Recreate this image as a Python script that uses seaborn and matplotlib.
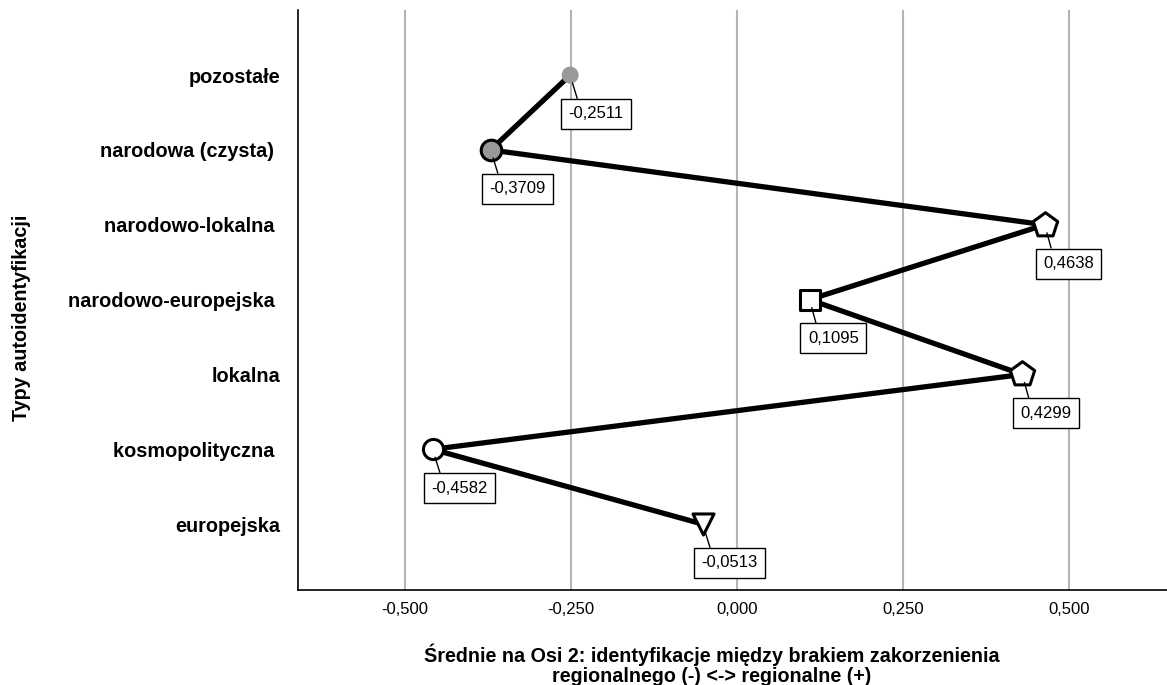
import numpy as np
import pandas as pd
import matplotlib
matplotlib.use("Agg")
import matplotlib.pyplot as plt
import seaborn as sns

# Dane
kategorie = ['pozostałe', 'narodowa (czysta) ', 'narodowo-lokalna ', 'narodowo-europejska ',
             'lokalna', 'kosmopolityczna ', 'europejska']
srednie = [-0.2511, -0.3709, 0.4638, 0.1095, 0.4299, -0.4582, -0.0513]
pozycje = [6, 5, 4, 3, 2, 1, 0]
markery = ['o', 'o', 'p', 's', 'p', 'o', 'v']
wypelnienie = ['#999999', '#999999', 'white', 'white', 'white', 'white', 'white']
krawedz = ['none', 'black', 'black', 'black', 'black', 'black', 'black']
rozmiar = [150, 220, 340, 200, 340, 210, 230]
ticki_x = [-0.5, -0.25, 0.0, 0.25, 0.5]

df = pd.DataFrame({'kategoria': kategorie, 'srednia': srednie, 'poz': pozycje})

sns.set_theme(style='white')
plt.rcParams['font.family'] = ['Liberation Sans', 'DejaVu Sans']
plt.rcParams['text.color'] = 'black'
plt.rcParams['axes.labelcolor'] = 'black'
plt.rcParams['xtick.color'] = 'black'
plt.rcParams['ytick.color'] = 'black'

fig = plt.figure(figsize=(11.67, 6.85), dpi=100)
ax = fig.add_axes([298 / 1167, 1 - 590 / 685, 869 / 1167, 580 / 685])

# linie siatki tylko pionowe
for x in ticki_x:
    ax.axvline(x, color='#b4b4b4', lw=1.5, zorder=0)

sns.lineplot(data=df, x='srednia', y='poz', sort=False, estimator=None,
             color='black', lw=3.8, ax=ax, zorder=2)

for i, row in df.iterrows():
    ax.scatter(row['srednia'], row['poz'], marker=markery[i], s=rozmiar[i],
               facecolor=wypelnienie[i], edgecolor=krawedz[i], linewidths=2.2, zorder=3)
    ax.annotate(f"{row['srednia']:.4f}".replace('.', ','),
                xy=(row['srednia'], row['poz']), xytext=(-1.1, -22.5),
                textcoords='offset points', ha='left', va='top', fontsize=12,
                bbox=dict(boxstyle='square,pad=0.45', fc='white', ec='black', lw=1),
                arrowprops=dict(arrowstyle='-', color='black', lw=1, shrinkA=0,
                                shrinkB=6, relpos=(0.2, 1)),
                zorder=4)

ax.set_xlim(-0.661, 0.648)
ax.set_ylim(-0.88, 6.87)
ax.set_yticks(pozycje)
ax.set_yticklabels(kategorie, fontsize=14.3, fontweight='bold')
ax.set_xticks(ticki_x)
ax.set_xticklabels([f"{t:.3f}".replace('.', ',') for t in ticki_x], fontsize=12)
ax.tick_params(axis='both', length=0)
ax.tick_params(axis='y', pad=13)
ax.tick_params(axis='x', pad=9)

for s in ['top', 'right']:
    ax.spines[s].set_visible(False)
for s in ['left', 'bottom']:
    ax.spines[s].set_color('black')
    ax.spines[s].set_linewidth(1.2)

ax.set_xlabel('Średnie na Osi 2: identyfikacje między brakiem zakorzenienia\nregionalnego (-) <-> regionalne (+)',
              fontsize=14.2, fontweight='bold', linespacing=1.05)
ax.xaxis.set_label_coords(0.476, -0.092)
ax.xaxis.label.set_va('top')
ax.set_ylabel('Typy autoidentyfikacji', fontsize=14.2, fontweight='bold')
ax.yaxis.set_label_coords(-0.307, 0.47)

fig.savefig('out.png', dpi=100, facecolor='white')
